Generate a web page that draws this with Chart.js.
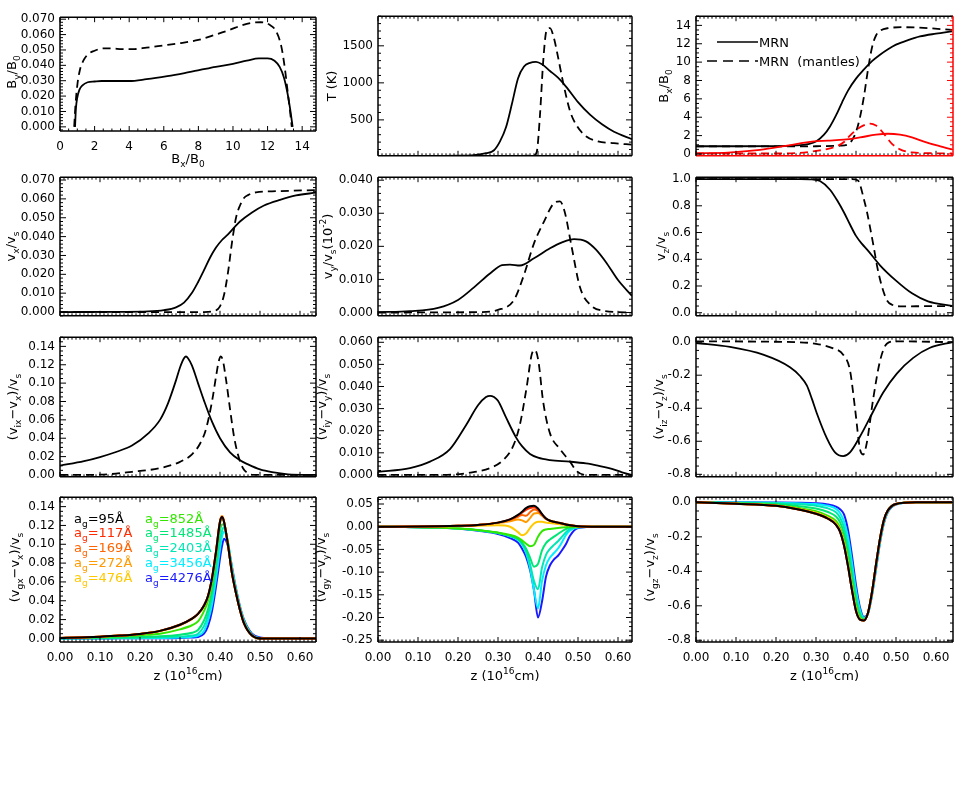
<!DOCTYPE html>
<html>
<head>
<meta charset="utf-8">
<script src="https://cdn.jsdelivr.net/npm/chart.js@4.4.0/dist/chart.umd.min.js"></script>
<style>
  body { margin: 0; background: #fff; }
  #fig { position: relative; width: 954px; height: 803px; overflow: hidden; }
  #fig canvas { position: absolute; }
</style>
</head>
<body>
<div id="fig"></div>
<script>
// ---------- data ----------

// panel 1: By/B0 against Bx/B0
const p1SolidBx = [0.87, 0.92, 1.0, 1.12, 1.3, 1.6, 2.0, 2.4, 3.0, 4.0, 5.0, 6.2, 7.2, 8.1, 9.0, 10.0, 10.8, 11.5, 12.0, 12.4, 12.7, 12.95, 13.15, 13.3, 13.45];
const p1SolidBy = [0.0, 0.012, 0.019, 0.024, 0.027, 0.029, 0.0295, 0.0298, 0.0298, 0.0298, 0.031, 0.033, 0.035, 0.037, 0.039, 0.041, 0.043, 0.0445, 0.0445, 0.043, 0.039, 0.032, 0.022, 0.012, 0.0];
const p1DashBx = [0.82, 0.9, 1.0, 1.15, 1.35, 1.6, 2.0, 2.5, 3.0, 3.6, 4.2, 5.0, 6.0, 7.0, 8.0, 9.0, 9.8, 10.5, 11.0, 11.6, 12.1, 12.5, 12.8, 13.0, 13.15, 13.3, 13.4];
const p1DashBy = [0.0, 0.015, 0.027, 0.037, 0.043, 0.047, 0.0495, 0.051, 0.051, 0.0505, 0.0505, 0.0515, 0.053, 0.0545, 0.0565, 0.060, 0.063, 0.066, 0.0675, 0.068, 0.0665, 0.062, 0.052, 0.038, 0.024, 0.010, 0.0];

// panel 2: T (K)
const p2SolidZ = [0, 0.10, 0.20, 0.24, 0.27, 0.29, 0.305, 0.32, 0.335, 0.35, 0.365, 0.38, 0.395, 0.41, 0.43, 0.45, 0.47, 0.50, 0.53, 0.56, 0.59, 0.635];
const p2SolidT = [12, 13, 16, 25, 50, 90, 210, 400, 720, 1060, 1220, 1270, 1282, 1250, 1160, 1070, 950, 740, 570, 440, 340, 240];
const p2DashZ = [0, 0.20, 0.35, 0.39, 0.397, 0.405, 0.413, 0.421, 0.43, 0.44, 0.45, 0.463, 0.48, 0.497, 0.52, 0.55, 0.59, 0.635];
const p2DashT = [12, 12, 13, 20, 70, 570, 1290, 1700, 1740, 1600, 1350, 1000, 620, 420, 280, 210, 185, 165];

// panel 3: Bx/B0 (black) and the red curves on the red axis
const p3SolidZ = [0, 0.10, 0.20, 0.25, 0.28, 0.30, 0.32, 0.335, 0.35, 0.365, 0.38, 0.40, 0.42, 0.44, 0.46, 0.48, 0.50, 0.53, 0.56, 0.60, 0.64];
const p3Solid = [0.84, 0.84, 0.86, 0.93, 1.08, 1.35, 2.1, 3.0, 4.2, 5.6, 6.9, 8.2, 9.2, 10.1, 10.8, 11.4, 11.9, 12.4, 12.8, 13.1, 13.35];
const p3DashZ = [0, 0.20, 0.30, 0.36, 0.38, 0.39, 0.40, 0.41, 0.42, 0.43, 0.44, 0.45, 0.46, 0.48, 0.52, 0.58, 0.64];
const p3Dash = [0.82, 0.82, 0.84, 0.9, 1.05, 1.5, 2.4, 4.0, 6.3, 9.2, 11.6, 12.9, 13.4, 13.7, 13.8, 13.7, 13.5];
const p3RedSolidZ = [0, 0.08, 0.16, 0.22, 0.26, 0.29, 0.33, 0.37, 0.41, 0.45, 0.48, 0.51, 0.54, 0.57, 0.60, 0.64];
const p3RedSolid = [0.07, 0.15, 0.45, 0.85, 1.15, 1.35, 1.45, 1.55, 1.8, 2.1, 2.2, 2.1, 1.8, 1.35, 0.95, 0.5];
const p3RedDashZ = [0, 0.20, 0.26, 0.30, 0.33, 0.355, 0.37, 0.385, 0.41, 0.435, 0.45, 0.46, 0.475, 0.49, 0.51, 0.54, 0.64];
const p3RedDash = [0.05, 0.05, 0.12, 0.33, 0.55, 0.9, 1.3, 2.0, 2.9, 3.3, 3.1, 2.7, 1.9, 1.1, 0.5, 0.17, 0.05];

// panel 4: vx/vs
const p4SolidZ = [0, 0.15, 0.22, 0.26, 0.29, 0.31, 0.33, 0.345, 0.36, 0.375, 0.39, 0.405, 0.42, 0.435, 0.45, 0.48, 0.51, 0.55, 0.59, 0.64];
const p4Solid = [0, 0.0001, 0.0003, 0.001, 0.0025, 0.005, 0.0102, 0.0158, 0.0222, 0.0288, 0.0342, 0.0382, 0.0412, 0.0447, 0.048, 0.0528, 0.0565, 0.0595, 0.0618, 0.0633];
const p4DashZ = [0, 0.36, 0.385, 0.40, 0.41, 0.42, 0.43, 0.44, 0.45, 0.46, 0.47, 0.49, 0.53, 0.64];
const p4Dash = [0, 0, 0.0005, 0.003, 0.009, 0.021, 0.037, 0.05, 0.0565, 0.0605, 0.062, 0.0635, 0.064, 0.0647];

// panel 5: vy/vs
const p5SolidZ = [0, 0.08, 0.15, 0.20, 0.24, 0.28, 0.31, 0.33, 0.355, 0.39, 0.43, 0.46, 0.49, 0.52, 0.545, 0.57, 0.60, 0.635];
const p5Solid = [0.0001, 0.0004, 0.0014, 0.0038, 0.0076, 0.0118, 0.0143, 0.0145, 0.0142, 0.0164, 0.0194, 0.0212, 0.0222, 0.0215, 0.019, 0.0152, 0.0098, 0.005];
const p5DashZ = [0, 0.25, 0.30, 0.34, 0.365, 0.39, 0.415, 0.438, 0.455, 0.467, 0.484, 0.505, 0.53, 0.565, 0.635];
const p5Dash = [0, 0.0001, 0.0008, 0.0038, 0.0114, 0.0209, 0.0275, 0.0328, 0.0336, 0.0303, 0.0199, 0.0076, 0.0024, 0.0005, 0];

// panel 6: vz/vs
const p6SolidZ = [0, 0.20, 0.26, 0.29, 0.31, 0.335, 0.355, 0.37, 0.385, 0.40, 0.415, 0.43, 0.46, 0.50, 0.54, 0.58, 0.64];
const p6Solid = [1.0, 1.0, 1.0, 0.997, 0.985, 0.92, 0.83, 0.75, 0.66, 0.575, 0.515, 0.465, 0.355, 0.24, 0.145, 0.085, 0.052];
const p6DashZ = [0, 0.39, 0.405, 0.41, 0.418, 0.427, 0.435, 0.445, 0.452, 0.46, 0.468, 0.478, 0.49, 0.51, 0.64];
const p6Dash = [1.0, 1.0, 0.99, 0.96, 0.87, 0.76, 0.64, 0.48, 0.36, 0.25, 0.165, 0.09, 0.06, 0.048, 0.05];

// panel 7: (vix-vx)/vs
const p7SolidZ = [0, 0.06, 0.10, 0.14, 0.18, 0.22, 0.25, 0.27, 0.29, 0.30, 0.31, 0.315, 0.32, 0.33, 0.345, 0.36, 0.38, 0.40, 0.425, 0.45, 0.47, 0.50, 0.53, 0.57, 0.64];
const p7Solid = [0.0102, 0.015, 0.0195, 0.025, 0.032, 0.045, 0.06, 0.078, 0.103, 0.117, 0.127, 0.129, 0.127, 0.119, 0.1, 0.081, 0.058, 0.04, 0.0246, 0.016, 0.0115, 0.006, 0.003, 0.0007, 0];
const p7DashZ = [0, 0.10, 0.18, 0.25, 0.30, 0.33, 0.35, 0.365, 0.38, 0.39, 0.397, 0.402, 0.407, 0.415, 0.425, 0.435, 0.445, 0.458, 0.47, 0.485, 0.64];
const p7Dash = [0, 0.0003, 0.0034, 0.0075, 0.0143, 0.0225, 0.034, 0.05, 0.08, 0.107, 0.124, 0.129, 0.125, 0.104, 0.072, 0.042, 0.022, 0.007, 0.002, 0, 0];

// panel 8: (viy-vy)/vs
const p8SolidZ = [0, 0.08, 0.13, 0.18, 0.22, 0.25, 0.27, 0.28, 0.29, 0.30, 0.32, 0.345, 0.36, 0.38, 0.40, 0.43, 0.48, 0.52, 0.55, 0.58, 0.61, 0.635];
const p8Solid = [0.0014, 0.0031, 0.006, 0.0117, 0.0225, 0.0315, 0.0352, 0.0358, 0.0352, 0.0335, 0.026, 0.017, 0.013, 0.0095, 0.0078, 0.0067, 0.006, 0.0052, 0.0042, 0.003, 0.0012, 0];
const p8DashZ = [0, 0.16, 0.23, 0.28, 0.313, 0.338, 0.355, 0.372, 0.384, 0.3925, 0.401, 0.413, 0.43, 0.455, 0.48, 0.497, 0.52, 0.635];
const p8Dash = [0, 0, 0.001, 0.0031, 0.0067, 0.0131, 0.023, 0.0401, 0.0543, 0.0565, 0.0515, 0.033, 0.0188, 0.0117, 0.006, 0.0017, 0, 0];

// panel 9: (viz-vz)/vs
const p9SolidZ = [0, 0.085, 0.168, 0.235, 0.26, 0.277, 0.29, 0.302, 0.327, 0.3475, 0.368, 0.385, 0.41, 0.435, 0.468, 0.502, 0.543, 0.585, 0.642];
const p9Solid = [-0.005, -0.029, -0.076, -0.152, -0.205, -0.262, -0.345, -0.43, -0.581, -0.667, -0.69, -0.667, -0.571, -0.457, -0.305, -0.19, -0.095, -0.034, 0.0];
const p9DashZ = [0, 0.25, 0.30, 0.343, 0.368, 0.385, 0.3975, 0.41, 0.418, 0.427, 0.443, 0.46, 0.477, 0.50, 0.642];
const p9Dash = [0.005, 0.0, -0.01, -0.038, -0.076, -0.171, -0.4, -0.648, -0.68, -0.61, -0.343, -0.114, -0.01, 0.005, 0.0];

// grain sizes (Angstrom) for the bottom row
const grainSizes = [95, 117, 169, 272, 476, 852, 1485, 2403, 3456, 4276];

// panel 10: (vgx-vx)/vs
const p10Z = [0, 0.05, 0.10, 0.15, 0.20, 0.25, 0.30, 0.33, 0.345, 0.36, 0.37, 0.38, 0.39, 0.40, 0.405, 0.41, 0.42, 0.43, 0.44, 0.45, 0.46, 0.48, 0.50, 0.55, 0.64];
const vgx95 = [0.0005, 0.001, 0.0018, 0.003, 0.0048, 0.008, 0.0145, 0.021, 0.026, 0.035, 0.045, 0.064, 0.092, 0.124, 0.129, 0.124, 0.099, 0.069, 0.048, 0.030, 0.016, 0.003, 0, 0, 0];
const vgx117 = [0.0005, 0.001, 0.0018, 0.003, 0.0048, 0.008, 0.0145, 0.021, 0.026, 0.035, 0.045, 0.064, 0.092, 0.124, 0.129, 0.124, 0.099, 0.069, 0.048, 0.030, 0.016, 0.003, 0, 0, 0];
const vgx169 = [0.0005, 0.001, 0.0018, 0.003, 0.0048, 0.008, 0.0145, 0.021, 0.026, 0.035, 0.045, 0.064, 0.092, 0.124, 0.129, 0.124, 0.099, 0.069, 0.048, 0.030, 0.016, 0.003, 0, 0, 0];
const vgx272 = [0.0005, 0.001, 0.0018, 0.003, 0.0048, 0.008, 0.0145, 0.021, 0.026, 0.035, 0.045, 0.064, 0.093, 0.125, 0.13, 0.125, 0.099, 0.069, 0.048, 0.030, 0.016, 0.003, 0, 0, 0];
const vgx476 = [0.0005, 0.001, 0.0018, 0.003, 0.0047, 0.0078, 0.014, 0.0205, 0.0255, 0.034, 0.044, 0.063, 0.091, 0.123, 0.128, 0.124, 0.099, 0.069, 0.048, 0.030, 0.016, 0.003, 0, 0, 0];
const vgx852 = [0.0004, 0.0008, 0.0014, 0.0023, 0.0035, 0.005, 0.0096, 0.014, 0.018, 0.029, 0.040, 0.059, 0.09, 0.122, 0.128, 0.124, 0.1, 0.07, 0.049, 0.031, 0.017, 0.003, 0, 0, 0];
const vgx1485 = [0.0002, 0.0004, 0.0007, 0.001, 0.0015, 0.0022, 0.004, 0.006, 0.009, 0.019, 0.031, 0.05, 0.082, 0.114, 0.121, 0.121, 0.101, 0.071, 0.05, 0.031, 0.017, 0.003, 0, 0, 0];
const vgx2403 = [0.0001, 0.0002, 0.0003, 0.0005, 0.0008, 0.0012, 0.002, 0.003, 0.005, 0.013, 0.025, 0.044, 0.072, 0.104, 0.114, 0.118, 0.102, 0.073, 0.051, 0.032, 0.018, 0.004, 0, 0, 0];
const vgx3456 = [0, 0, 0.0001, 0.0002, 0.0003, 0.0005, 0.001, 0.0018, 0.003, 0.008, 0.019, 0.036, 0.063, 0.095, 0.108, 0.113, 0.102, 0.075, 0.052, 0.033, 0.019, 0.004, 0.0005, 0, 0];
const vgx4276 = [0, 0, 0, 0.0001, 0.0001, 0.0002, 0.0005, 0.001, 0.0015, 0.005, 0.013, 0.029, 0.055, 0.085, 0.098, 0.106, 0.098, 0.076, 0.053, 0.034, 0.02, 0.005, 0.001, 0, 0];

// panel 11: (vgy-vy)/vs
const p11Z = [0, 0.10, 0.15, 0.20, 0.25, 0.30, 0.33, 0.35, 0.36, 0.37, 0.38, 0.39, 0.40, 0.41, 0.42, 0.43, 0.44, 0.45, 0.46, 0.47, 0.48, 0.50, 0.55, 0.64];
const vgy95 = [0, 0.0005, 0.001, 0.002, 0.004, 0.009, 0.016, 0.026, 0.033, 0.041, 0.045, 0.046, 0.04, 0.028, 0.018, 0.013, 0.011, 0.009, 0.007, 0.005, 0.003, 0.001, 0, 0];
const vgy117 = [0, 0.0005, 0.001, 0.002, 0.004, 0.009, 0.016, 0.025, 0.031, 0.037, 0.041, 0.043, 0.038, 0.027, 0.018, 0.013, 0.011, 0.009, 0.007, 0.005, 0.003, 0.001, 0, 0];
const vgy169 = [0, 0.0005, 0.001, 0.002, 0.004, 0.009, 0.015, 0.022, 0.026, 0.024, 0.032, 0.038, 0.035, 0.026, 0.017, 0.013, 0.011, 0.009, 0.007, 0.005, 0.003, 0.001, 0, 0];
const vgy272 = [0, 0.0005, 0.001, 0.002, 0.004, 0.008, 0.012, 0.016, 0.014, 0.010, 0.019, 0.029, 0.030, 0.024, 0.017, 0.013, 0.011, 0.009, 0.007, 0.005, 0.003, 0.001, 0, 0];
const vgy476 = [0, 0.0003, 0.0006, 0.001, 0.002, 0.003, 0.0, -0.012, -0.019, -0.015, -0.003, 0.007, 0.011, 0.011, 0.009, 0.008, 0.007, 0.006, 0.005, 0.004, 0.003, 0.001, 0, 0];
const vgy852 = [0, -0.001, -0.002, -0.004, -0.007, -0.013, -0.018, -0.024, -0.03, -0.037, -0.043, -0.04, -0.022, -0.01, -0.006, -0.005, -0.004, -0.003, -0.002, -0.001, 0, 0, 0, 0];
const vgy1485 = [0, -0.001, -0.002, -0.004, -0.008, -0.014, -0.02, -0.027, -0.035, -0.048, -0.068, -0.088, -0.082, -0.052, -0.036, -0.028, -0.022, -0.016, -0.01, -0.005, -0.002, 0, 0, 0];
const vgy2403 = [0, -0.001, -0.002, -0.004, -0.008, -0.014, -0.02, -0.028, -0.037, -0.053, -0.082, -0.12, -0.138, -0.09, -0.062, -0.049, -0.04, -0.032, -0.022, -0.012, -0.005, -0.001, 0, 0];
const vgy3456 = [0, -0.001, -0.002, -0.004, -0.008, -0.014, -0.021, -0.029, -0.039, -0.057, -0.09, -0.14, -0.18, -0.12, -0.085, -0.068, -0.058, -0.048, -0.034, -0.018, -0.008, -0.002, 0, 0];
const vgy4276 = [0, -0.001, -0.002, -0.004, -0.009, -0.016, -0.025, -0.035, -0.048, -0.066, -0.095, -0.14, -0.2, -0.165, -0.11, -0.085, -0.072, -0.064, -0.052, -0.038, -0.02, -0.003, 0, 0];

// panel 12: (vgz-vz)/vs
const p12Z = [0, 0.10, 0.20, 0.25, 0.30, 0.33, 0.35, 0.36, 0.37, 0.38, 0.39, 0.40, 0.41, 0.42, 0.43, 0.44, 0.45, 0.46, 0.47, 0.48, 0.50, 0.55, 0.64];
const vgz95 = [0, -0.008, -0.02, -0.038, -0.066, -0.095, -0.13, -0.17, -0.25, -0.37, -0.51, -0.63, -0.68, -0.685, -0.64, -0.52, -0.36, -0.21, -0.1, -0.045, -0.009, 0, 0];
const vgz117 = [0, -0.008, -0.02, -0.038, -0.066, -0.095, -0.13, -0.17, -0.25, -0.37, -0.51, -0.63, -0.68, -0.685, -0.64, -0.52, -0.36, -0.21, -0.1, -0.045, -0.009, 0, 0];
const vgz169 = [0, -0.008, -0.02, -0.038, -0.066, -0.095, -0.13, -0.17, -0.25, -0.37, -0.51, -0.63, -0.68, -0.685, -0.64, -0.52, -0.36, -0.21, -0.1, -0.045, -0.009, 0, 0];
const vgz272 = [0, -0.008, -0.02, -0.037, -0.064, -0.093, -0.127, -0.166, -0.245, -0.365, -0.505, -0.627, -0.679, -0.685, -0.64, -0.52, -0.36, -0.21, -0.1, -0.045, -0.009, 0, 0];
const vgz476 = [0, -0.007, -0.018, -0.035, -0.06, -0.088, -0.122, -0.16, -0.235, -0.355, -0.495, -0.62, -0.677, -0.684, -0.64, -0.52, -0.36, -0.21, -0.1, -0.045, -0.009, 0, 0];
const vgz852 = [0, -0.006, -0.016, -0.03, -0.052, -0.078, -0.108, -0.145, -0.215, -0.33, -0.47, -0.6, -0.67, -0.682, -0.64, -0.522, -0.362, -0.212, -0.102, -0.046, -0.009, 0, 0];
const vgz1485 = [0, -0.004, -0.01, -0.02, -0.036, -0.056, -0.082, -0.115, -0.18, -0.29, -0.43, -0.57, -0.655, -0.678, -0.642, -0.526, -0.368, -0.218, -0.106, -0.048, -0.01, 0, 0];
const vgz2403 = [0, -0.002, -0.005, -0.01, -0.02, -0.035, -0.058, -0.088, -0.145, -0.25, -0.39, -0.54, -0.64, -0.674, -0.643, -0.53, -0.374, -0.224, -0.11, -0.05, -0.011, 0, 0];
const vgz3456 = [0, -0.001, -0.002, -0.005, -0.01, -0.02, -0.038, -0.062, -0.11, -0.2, -0.35, -0.51, -0.625, -0.67, -0.644, -0.535, -0.382, -0.23, -0.115, -0.052, -0.011, 0, 0];
const vgz4276 = [0, 0, -0.001, -0.002, -0.005, -0.012, -0.025, -0.04, -0.07, -0.16, -0.31, -0.48, -0.61, -0.665, -0.645, -0.54, -0.39, -0.235, -0.12, -0.055, -0.012, 0, 0];

// ---------- styling ----------
const FAM = "'DejaVu Sans', 'Liberation Sans', sans-serif";
const BLACK = '#000000';
const RED = '#ff0000';
const SOLID = [];
const DASH = [8, 5];
const sizeColors = ['#000000', '#ff2a00', '#ff6400', '#ff9a00', '#ffc800', '#33e600', '#00e676', '#00e6b4', '#00eeff', '#1a1aff'];

const PADL = 70, PADR = 10, PADT = 8, PADB = 8, PADB_LAB = 46;

const pts = (xs, ys) => xs.map((x, i) => ({ x, y: ys[i] }));

function fmt(v, d) {
  if (Math.abs(v) < 1e-9) v = 0;
  return v.toFixed(d);
}

const vOver = (a, b) => [['(v'], [a, 'sub'], ['\u2212v'], [b, 'sub'], [')/v'], ['s', 'sub']];
const zTitle = [['z (10'], ['16', 'sup'], ['cm)']];
const zAxis = (max, labels) => ({ min: 0, max, step: 0.1, dec: 2, minor: 10, labels });

const sizeSeries = (zs, list) => list.map((ys, i) => ({ xs: zs, ys, color: sizeColors[i], dash: SOLID, width: 2 }));

const panels = [
  {
    l: 60, t: 13, w: 256, h: 118,
    x: { min: 0, max: 14.8, step: 2, dec: 0, minor: 4, labels: true },
    y: { min: -0.0027, max: 0.0713, step: 0.01, dec: 3, minor: 5 },
    yTitle: { parts: [['B'], ['y', 'sub'], ['/B'], ['0', 'sub']], x: 11 },
    xTitle: { parts: [['B'], ['x', 'sub'], ['/B'], ['0', 'sub']], y: 158 },
    series: [
      { xs: p1SolidBx, ys: p1SolidBy, color: BLACK, dash: SOLID },
      { xs: p1DashBx, ys: p1DashBy, color: BLACK, dash: DASH }
    ]
  },
  {
    l: 378, t: 12, w: 254, h: 148,
    x: zAxis(0.635, false),
    y: { min: 15, max: 1900, step: 500, dec: 0, minor: 5 },
    yTitle: { parts: [['T (K)']], x: 331 },
    series: [
      { xs: p2SolidZ, ys: p2SolidT, color: BLACK, dash: SOLID },
      { xs: p2DashZ, ys: p2DashT, color: BLACK, dash: DASH }
    ]
  },
  {
    l: 696, t: 12, w: 257, h: 148,
    x: zAxis(0.6425, false),
    y: { min: -0.2, max: 15, step: 2, dec: 0, minor: 4 },
    yTitle: { parts: [['B'], ['x', 'sub'], ['/B'], ['0', 'sub']], x: 663 },
    frame: { right: RED, bottom: RED },
    legend: [
      { dash: SOLID, x1: 717, x2: 758, y: 42, text: 'MRN' },
      { dash: [10, 6], x1: 707, x2: 758, y: 61, text: 'MRN  (mantles)' }
    ],
    series: [
      { xs: p3RedSolidZ, ys: p3RedSolid, color: RED, dash: SOLID },
      { xs: p3RedDashZ, ys: p3RedDash, color: RED, dash: DASH },
      { xs: p3SolidZ, ys: p3Solid, color: BLACK, dash: SOLID },
      { xs: p3DashZ, ys: p3Dash, color: BLACK, dash: DASH }
    ]
  },
  {
    l: 60, t: 173, w: 256, h: 147,
    x: zAxis(0.64, false),
    y: { min: -0.002, max: 0.0715, step: 0.01, dec: 3, minor: 5 },
    yTitle: { parts: [['v'], ['x', 'sub'], ['/v'], ['s', 'sub']], x: 10 },
    series: [
      { xs: p4SolidZ, ys: p4Solid, color: BLACK, dash: SOLID },
      { xs: p4DashZ, ys: p4Dash, color: BLACK, dash: DASH }
    ]
  },
  {
    l: 378, t: 173, w: 254, h: 147,
    x: zAxis(0.635, false),
    y: { min: -0.001, max: 0.0409, step: 0.01, dec: 3, minor: 5 },
    yTitle: { parts: [['v'], ['y', 'sub'], ['/v'], ['s', 'sub'], ['(10'], ['-2', 'sup'], [')']], x: 327 },
    series: [
      { xs: p5SolidZ, ys: p5Solid, color: BLACK, dash: SOLID },
      { xs: p5DashZ, ys: p5Dash, color: BLACK, dash: DASH }
    ]
  },
  {
    l: 696, t: 173, w: 257, h: 147,
    x: zAxis(0.6425, false),
    y: { min: -0.023, max: 1.014, step: 0.2, dec: 1, minor: 4 },
    yTitle: { parts: [['v'], ['z', 'sub'], ['/v'], ['s', 'sub']], x: 660 },
    series: [
      { xs: p6SolidZ, ys: p6Solid, color: BLACK, dash: SOLID },
      { xs: p6DashZ, ys: p6Dash, color: BLACK, dash: DASH }
    ]
  },
  {
    l: 60, t: 333, w: 256, h: 148,
    x: zAxis(0.64, false),
    y: { min: -0.002, max: 0.15, step: 0.02, dec: 2, minor: 4 },
    yTitle: { parts: vOver('ix', 'x'), x: 12 },
    series: [
      { xs: p7SolidZ, ys: p7Solid, color: BLACK, dash: SOLID },
      { xs: p7DashZ, ys: p7Dash, color: BLACK, dash: DASH }
    ]
  },
  {
    l: 378, t: 333, w: 254, h: 148,
    x: zAxis(0.635, false),
    y: { min: -0.00085, max: 0.0623, step: 0.01, dec: 3, minor: 5 },
    yTitle: { parts: vOver('iy', 'y'), x: 321 },
    series: [
      { xs: p8SolidZ, ys: p8Solid, color: BLACK, dash: SOLID },
      { xs: p8DashZ, ys: p8Dash, color: BLACK, dash: DASH }
    ]
  },
  {
    l: 696, t: 333, w: 257, h: 148,
    x: zAxis(0.6425, false),
    y: { min: -0.815, max: 0.03, step: 0.2, dec: 1, minor: 4 },
    yTitle: { parts: vOver('iz', 'z'), x: 658 },
    series: [
      { xs: p9SolidZ, ys: p9Solid, color: BLACK, dash: SOLID },
      { xs: p9DashZ, ys: p9Dash, color: BLACK, dash: DASH }
    ]
  },
  {
    l: 60, t: 493, w: 256, h: 149,
    x: zAxis(0.64, true),
    y: { min: -0.0038, max: 0.15, step: 0.02, dec: 2, minor: 4 },
    yTitle: { parts: vOver('gx', 'x'), x: 14 },
    xTitle: { parts: zTitle, y: 675 },
    sizeLegend: { x1: 74, x2: 145, y0: 518, dy: 14.8 },
    series: sizeSeries(p10Z, [vgx95, vgx117, vgx169, vgx272, vgx476, vgx852, vgx1485, vgx2403, vgx3456, vgx4276])
  },
  {
    l: 378, t: 493, w: 254, h: 149,
    x: zAxis(0.635, true),
    y: { min: -0.254, max: 0.065, step: 0.05, dec: 2, minor: 5 },
    yTitle: { parts: vOver('gy', 'y'), x: 320 },
    xTitle: { parts: zTitle, y: 675 },
    series: sizeSeries(p11Z, [vgy95, vgy117, vgy169, vgy272, vgy476, vgy852, vgy1485, vgy2403, vgy3456, vgy4276])
  },
  {
    l: 696, t: 493, w: 257, h: 149,
    x: zAxis(0.6425, true),
    y: { min: -0.81, max: 0.03, step: 0.2, dec: 1, minor: 4 },
    yTitle: { parts: vOver('gz', 'z'), x: 649 },
    xTitle: { parts: zTitle, y: 675 },
    series: sizeSeries(p12Z, [vgz95, vgz117, vgz169, vgz272, vgz476, vgz852, vgz1485, vgz2403, vgz3456, vgz4276])
  }
];

// ---------- drawing helpers ----------
function drawRich(ctx, parts, x, y, opt) {
  const size = opt.size || 13;
  const small = Math.round(size * 0.7);
  ctx.save();
  ctx.translate(x, y);
  if (opt.rotate) ctx.rotate(-Math.PI / 2);
  const widths = parts.map(([t, k]) => {
    ctx.font = (k ? small : size) + 'px ' + FAM;
    return ctx.measureText(t).width;
  });
  const total = widths.reduce((a, b) => a + b, 0);
  let cx = opt.align === 'left' ? 0 : -total / 2;
  ctx.fillStyle = opt.color || '#000';
  ctx.textBaseline = 'alphabetic';
  ctx.textAlign = 'left';
  parts.forEach(([t, k], i) => {
    ctx.font = (k ? small : size) + 'px ' + FAM;
    const dy = k === 'sub' ? size * 0.3 : k === 'sup' ? -size * 0.45 : 0;
    ctx.fillText(t, cx, size * 0.36 + dy);
    cx += widths[i];
  });
  ctx.restore();
}

function tickMarks(ax) {
  const out = [];
  const ms = ax.step / ax.minor;
  const i0 = Math.ceil(ax.min / ms - 1e-6), i1 = Math.floor(ax.max / ms + 1e-6);
  for (let i = i0; i <= i1; i++) out.push({ v: i * ms, major: i % ax.minor === 0 });
  return out;
}

const majorTicks = (ax) => tickMarks(ax).filter((m) => m.major).map((m) => ({ value: m.v }));

function seg(ctx, x1, y1, x2, y2, color) {
  ctx.strokeStyle = color;
  ctx.beginPath();
  ctx.moveTo(x1, y1);
  ctx.lineTo(x2, y2);
  ctx.stroke();
}

function makeFrame(p, offX, offY) {
  return {
    id: 'idlFrame',
    afterDatasetsDraw(chart) {
      const { ctx, chartArea: a, scales } = chart;
      const xs = scales.x, ys = scales.y;
      const fr = p.frame || {};
      ctx.save();
      ctx.lineWidth = 1;
      for (const m of tickMarks(p.x)) {
        const px = xs.getPixelForValue(m.v);
        const len = m.major ? 5 : 2.5;
        seg(ctx, px, a.bottom, px, a.bottom - len, BLACK);
        seg(ctx, px, a.top, px, a.top + len, BLACK);
      }
      for (const m of tickMarks(p.y)) {
        const py = ys.getPixelForValue(m.v);
        const len = m.major ? 6 : 3;
        seg(ctx, a.left, py, a.left + len, py, BLACK);
        seg(ctx, a.right, py, a.right - len, py, fr.right || BLACK);
      }
      ctx.lineWidth = 1.5;
      seg(ctx, a.left, a.top, a.right, a.top, BLACK);
      seg(ctx, a.left, a.bottom, a.right, a.bottom, fr.bottom || BLACK);
      seg(ctx, a.left, a.top, a.left, a.bottom, BLACK);
      seg(ctx, a.right, a.top, a.right, a.bottom, fr.right || BLACK);

      if (p.yTitle) drawRich(ctx, p.yTitle.parts, p.yTitle.x - offX, p.t + p.h / 2 - offY, { rotate: true });
      if (p.xTitle) drawRich(ctx, p.xTitle.parts, p.l + p.w / 2 - offX, p.xTitle.y - offY, {});

      if (p.legend) {
        ctx.lineWidth = 1.6;
        for (const item of p.legend) {
          ctx.setLineDash(item.dash);
          seg(ctx, item.x1 - offX, item.y - offY, item.x2 - offX, item.y - offY, BLACK);
          ctx.setLineDash([]);
          drawRich(ctx, [[item.text]], item.x2 + 1 - offX, item.y - offY, { align: 'left' });
        }
      }
      if (p.sizeLegend) {
        const L = p.sizeLegend;
        grainSizes.forEach((s, i) => {
          const col = i < 5 ? L.x1 : L.x2;
          const row = i % 5;
          drawRich(ctx, [['a'], ['g', 'sub'], ['=' + s + '\u00c5']], col - offX, L.y0 + row * L.dy - offY,
            { align: 'left', color: sizeColors[i] });
        });
      }
      ctx.restore();
    }
  };
}

// ---------- build the charts ----------
const fig = document.getElementById('fig');

panels.forEach((p) => {
  const padBottom = p.x.labels ? PADB_LAB : PADB;
  const W = p.w + PADL + PADR;
  const H = p.h + PADT + padBottom;
  const offX = p.l - PADL, offY = p.t - PADT;

  const cv = document.createElement('canvas');
  cv.width = W;
  cv.height = H;
  cv.style.left = offX + 'px';
  cv.style.top = offY + 'px';
  cv.style.width = W + 'px';
  cv.style.height = H + 'px';
  fig.appendChild(cv);

  const datasets = p.series.map((s) => ({
    data: pts(s.xs, s.ys),
    borderColor: s.color,
    borderWidth: s.width || 1.8,
    borderDash: s.dash,
    showLine: true,
    pointRadius: 0,
    cubicInterpolationMode: 'monotone',
    fill: false
  }));

  const tickFont = { family: FAM, size: 12 };

  new Chart(cv, {
    type: 'scatter',
    data: { datasets },
    options: {
      responsive: false,
      animation: false,
      devicePixelRatio: 1,
      layout: { padding: { left: 0, right: PADR, top: PADT, bottom: p.x.labels ? 0 : PADB } },
      plugins: { legend: { display: false }, tooltip: { enabled: false } },
      scales: {
        x: {
          type: 'linear',
          min: p.x.min,
          max: p.x.max,
          grid: { display: false, drawTicks: false },
          border: { display: false },
          afterBuildTicks: (s) => { s.ticks = majorTicks(p.x); },
          ticks: {
            display: p.x.labels,
            autoSkip: false,
            maxRotation: 0,
            padding: 9,
            color: BLACK,
            font: tickFont,
            callback: (v) => fmt(v, p.x.dec)
          },
          afterFit: (s) => { s.height = p.x.labels ? PADB_LAB : 0; }
        },
        y: {
          type: 'linear',
          min: p.y.min,
          max: p.y.max,
          grid: { display: false, drawTicks: false },
          border: { display: false },
          afterBuildTicks: (s) => { s.ticks = majorTicks(p.y); },
          ticks: {
            autoSkip: false,
            padding: 5,
            color: BLACK,
            font: tickFont,
            callback: (v) => fmt(v, p.y.dec)
          },
          afterFit: (s) => { s.width = PADL; }
        }
      }
    },
    plugins: [makeFrame(p, offX, offY)]
  });
});
</script>
</body>
</html>
